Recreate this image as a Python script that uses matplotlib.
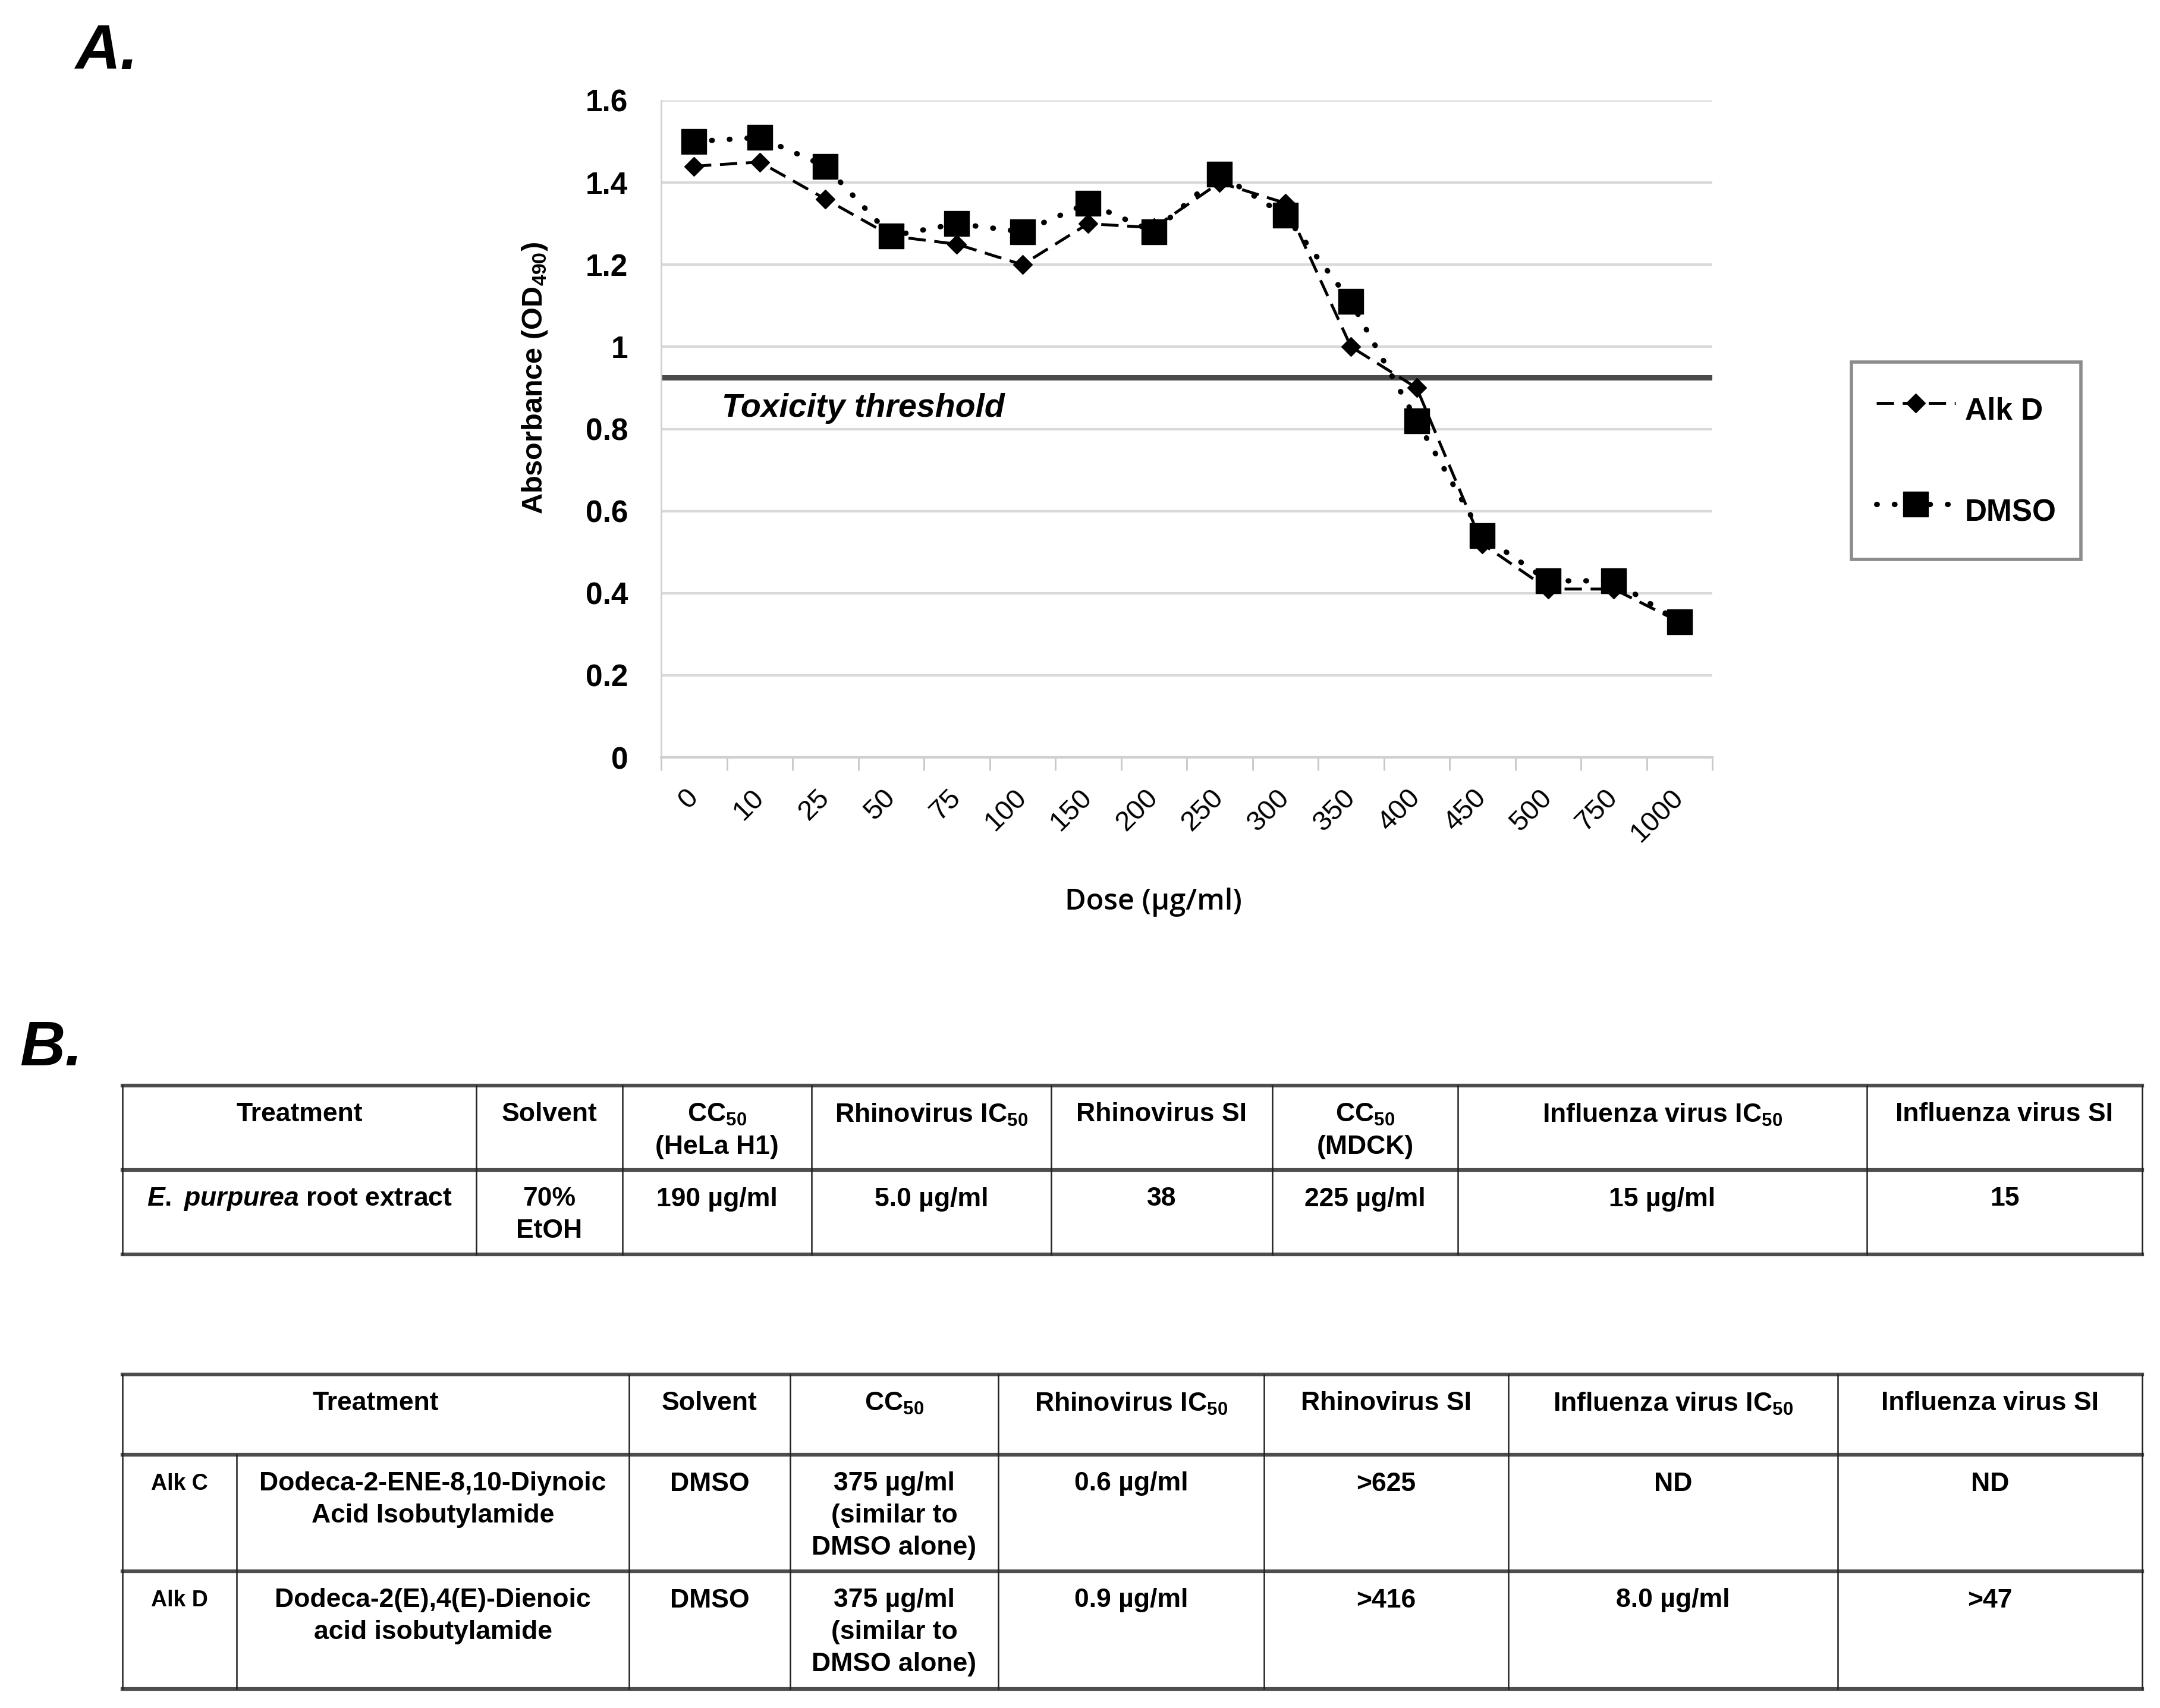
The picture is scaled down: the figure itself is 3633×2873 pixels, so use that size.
import matplotlib
matplotlib.use('Agg')
import matplotlib.pyplot as plt
import numpy as np

# chart data
doses = ['0', '10', '25', '50', '75', '100', '150', '200', '250', '300',
         '350', '400', '450', '500', '750', '1000']
alk_d = [1.44, 1.45, 1.36, 1.27, 1.25, 1.20, 1.30, 1.29, 1.40, 1.35,
         1.00, 0.90, 0.52, 0.41, 0.41, 0.33]
dmso = [1.50, 1.51, 1.44, 1.27, 1.30, 1.28, 1.35, 1.28, 1.42, 1.32,
        1.11, 0.82, 0.54, 0.43, 0.43, 0.33]
threshold = 0.925
y_ticks = [0, 0.2, 0.4, 0.6, 0.8, 1.0, 1.2, 1.4, 1.6]
y_labels = ['0', '0.2', '0.4', '0.6', '0.8', '1', '1.2', '1.4', '1.6']

# table data
t1_header = ['Treatment', 'Solvent', 'CC$_{50}$\n(HeLa H1)', 'Rhinovirus IC$_{50}$',
             'Rhinovirus SI', 'CC$_{50}$\n(MDCK)', 'Influenza virus IC$_{50}$',
             'Influenza virus SI']
t1_row = [r'$\mathit{E.}$ $\mathit{purpurea}$ root extract', '70%\nEtOH', '190 µg/ml',
          '5.0 µg/ml', '38', '225 µg/ml', '15 µg/ml', '15']

t2_header = ['Treatment', 'Solvent', 'CC$_{50}$', 'Rhinovirus IC$_{50}$', 'Rhinovirus SI',
             'Influenza virus IC$_{50}$', 'Influenza virus SI']
t2_rows = [
    ['Alk C', 'Dodeca-2-ENE-8,10-Diynoic\nAcid Isobutylamide', 'DMSO',
     '375 µg/ml\n(similar to\nDMSO alone)', '0.6 µg/ml', '>625', 'ND', 'ND'],
    ['Alk D', 'Dodeca-2(E),4(E)-Dienoic\nacid isobutylamide', 'DMSO',
     '375 µg/ml\n(similar to\nDMSO alone)', '0.9 µg/ml', '>416', '8.0 µg/ml', '>47'],
]

plt.rcParams['font.family'] = ['Liberation Sans', 'DejaVu Sans']
plt.rcParams['mathtext.fontset'] = 'custom'
plt.rcParams['mathtext.rm'] = 'Liberation Sans:bold'
plt.rcParams['mathtext.bf'] = 'Liberation Sans:bold'
plt.rcParams['mathtext.it'] = 'Liberation Sans:italic:bold'
plt.rcParams['mathtext.default'] = 'bf'

W, H = 3633, 2873
fig = plt.figure(figsize=(W / 100, H / 100), dpi=100)

# background axes in pixel coordinates for the labels and tables
bg = fig.add_axes([0, 0, 1, 1])
bg.set_xlim(0, W)
bg.set_ylim(H, 0)
bg.axis('off')

bg.text(126, 88, 'A.', fontsize=76, fontweight='bold', fontstyle='italic', va='center')
bg.text(33, 1765, 'B.', fontsize=76, fontweight='bold', fontstyle='italic', va='center')

# ---- panel A chart
ax = fig.add_axes([1112 / W, 1 - 1274 / H, (2880 - 1112) / W, (1274 - 169) / H])
x = np.arange(len(doses))
ax.plot(x, alk_d, color='black', lw=3.5, dashes=(6, 3), marker='D', ms=16,
        label='Alk D', zorder=3)
ax.plot(x, dmso, color='black', lw=6.5, dashes=(0.1, 3.2), dash_capstyle='round',
        marker='s', ms=30, label='DMSO', zorder=4)
ax.axhline(threshold, color='#4a4a4a', lw=6.5, zorder=2)
ax.text(0.42, 0.85, 'Toxicity threshold', fontsize=40, fontweight='bold',
        fontstyle='italic', va='center', ha='left')

ax.set_xlim(-0.5, len(doses) - 0.5)
ax.set_ylim(0, 1.6)
ax.set_yticks(y_ticks)
ax.set_yticklabels(y_labels, fontsize=37, fontweight='bold')
ax.set_xticks(x)
ax.set_xticklabels(doses, fontsize=34, rotation=45, ha='right', va='center',
                   rotation_mode='anchor')
ax.set_xticks(np.arange(-0.5, len(doses)), minor=True)
ax.tick_params(axis='x', which='major', length=0, pad=44)
ax.tick_params(axis='x', which='minor', length=16, width=2, color='#c8c8c8')
ax.tick_params(axis='y', length=0, pad=40)
ax.grid(axis='y', color='#d9d9d9', lw=3)
ax.set_axisbelow(True)
for s in ['top', 'right']:
    ax.spines[s].set_visible(False)
ax.spines['left'].set_color('#d0d0d0')
ax.spines['left'].set_linewidth(2)
ax.spines['bottom'].set_color('#d0d0d0')
ax.spines['bottom'].set_linewidth(3)

fig.text(900 / W, 1 - 636 / H, 'Absorbance (OD$_{490}$)', fontsize=35, fontweight='bold',
         rotation=90, ha='center', va='center')
fig.text(1940 / W, 1 - 1518 / H, 'Dose (µg/ml)', fontsize=35, fontweight='semibold',
         family=['Open Sans', 'DejaVu Sans'], ha='center', va='center')

leg = fig.legend(loc='center', bbox_to_anchor=(3307 / W, 1 - 775 / H),
                 prop={'size': 37, 'weight': 'bold'}, labelspacing=1.75, borderpad=0.8,
                 handleheight=2.03, handlelength=2.6, handletextpad=0.3,
                 fancybox=False, frameon=True)
leg.get_frame().set_edgecolor('#707070')
leg.get_frame().set_linewidth(4)

# ---- panel B tables
FS = 32
LINE = 54
hl = dict(color='#4d4d4d', lw=4.5)
vl = dict(color='#222222', lw=1.8)


def cell_text(xc, ytop, txt, size=FS):
    lines = txt.split('\n')
    for i, ln in enumerate(lines):
        bg.text(xc, ytop + 49 + i * LINE, ln, fontsize=size, fontweight='bold',
                ha='center', va='center')


# table 1
t1_cols = [206, 801, 1047, 1365, 1768, 2140, 2452, 3140, 3603]
t1_rows = [1826, 1968, 2110]
for yy in t1_rows:
    bg.plot([t1_cols[0], t1_cols[-1]], [yy, yy], **hl)
for xx in t1_cols:
    bg.plot([xx, xx], [t1_rows[0], t1_rows[-1]], **vl)
for i in range(len(t1_header)):
    xc = (t1_cols[i] + t1_cols[i + 1]) / 2
    cell_text(xc, t1_rows[0], t1_header[i])
    cell_text(xc, t1_rows[1], t1_row[i])

# table 2
t2_cols = [206, 398, 1058, 1329, 1679, 2126, 2537, 3091, 3603]
t2_rowy = [2312, 2447, 2643, 2841]
for yy in t2_rowy:
    bg.plot([t2_cols[0], t2_cols[-1]], [yy, yy], **hl)
for xx in t2_cols:
    y0 = t2_rowy[1] if xx == t2_cols[1] else t2_rowy[0]
    bg.plot([xx, xx], [y0, t2_rowy[-1]], **vl)
hdr_cols = [t2_cols[0]] + t2_cols[2:]
for i in range(len(t2_header)):
    cell_text((hdr_cols[i] + hdr_cols[i + 1]) / 2, t2_rowy[0], t2_header[i])
for r, row in enumerate(t2_rows):
    for i in range(len(row)):
        xc = (t2_cols[i] + t2_cols[i + 1]) / 2
        cell_text(xc, t2_rowy[r + 1], row[i], size=27 if i == 0 else FS)

fig.savefig('out.png', dpi=100)
